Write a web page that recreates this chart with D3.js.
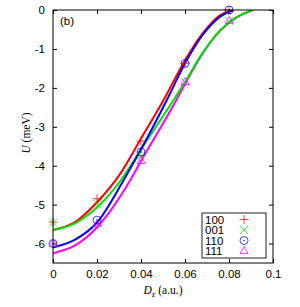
<!DOCTYPE html>
<html lang="en">
<head>
    <meta charset="utf-8">
    <script src="https://d3js.org/d3.v7.min.js"></script>
    <style>
        body { margin: 0; background: #fff; }
        svg { display: block; }
        .tick text { font-family: "Liberation Sans", Arial, sans-serif; font-size: 11.5px; fill: #000; }
    </style>
</head>
<body>
<svg id="vis" width="300" height="307"></svg>

<script>

    // series names and colours
    let series = ["100", "001", "110", "111"];
    let colors = ["#ff0000", "#00e000", "#0000ff", "#ff00ff"];

    // fitted curves: [D_z, U]
    let curve_100 = [[0, -5.65], [0.01, -5.45], [0.02, -4.94], [0.0305, -4.21], [0.04, -3.3], [0.0502, -2.32],
                     [0.06, -1.29], [0.068, -0.6], [0.076, -0.13], [0.082, 0]];
    let curve_001 = [[0, -5.65], [0.01, -5.48], [0.02, -5.07], [0.0305, -4.4], [0.04, -3.58], [0.0547, -2.32],
                     [0.06, -1.85], [0.068, -1.1], [0.076, -0.52], [0.0835, -0.18], [0.091, 0]];
    let curve_110 = [[0, -6.1], [0.01, -5.9], [0.02, -5.46], [0.032, -4.38], [0.04, -3.58], [0.0517, -2.32],
                     [0.06, -1.37], [0.068, -0.64], [0.076, -0.17], [0.082, 0]];
    let curve_111 = [[0, -6.25], [0.01, -6.05], [0.02, -5.58], [0.035, -4.38], [0.04, -3.88], [0.056, -2.32],
                     [0.06, -1.9], [0.068, -1.12], [0.076, -0.53], [0.0835, -0.19], [0.091, 0]];

    // measured points
    let pts_x = [0, 0.02, 0.04, 0.06, 0.08];
    let pts_100 = [-5.45, -4.85, -3.37, -1.37, 0];
    let pts_001 = [-5.46, -4.98, -3.74, -1.85, -0.28];
    let pts_110 = [-6.0, -5.4, -3.65, -1.37, 0];
    let pts_111 = [-6.0, -5.5, -3.88, -1.85, -0.28];

    let x_ticks = [0, 0.02, 0.04, 0.06, 0.08, 0.1];
    let x_labels = ["0", "0.02", "0.04", "0.06", "0.08", "0.1"];
    let y_ticks = [0, -1, -2, -3, -4, -5, -6];
    let y_labels = ["0", "-1", "-2", "-3", "-4", "-5", "-6"];

    var margin = {left: 53, right: 27, top: 10, bottom: 44};
    var svg = d3.select("#vis");
    var width = 300 - margin.left - margin.right,
        height = 307 - margin.top - margin.bottom;

    var x = d3.scaleLinear().domain([0, 0.1]).range([0, width]);
    var y = d3.scaleLinear().domain([-6.5, 0]).range([height, 0]);

    var g = svg.append("g").attr("transform", "translate(" + margin.left + "," + margin.top + ")");

    g.append("defs").append("clipPath").attr("id", "clip")
        .append("rect").attr("width", width).attr("height", height);

    // axes, ticks inside
    var xb = g.append("g").attr("transform", "translate(0," + height + ")")
        .call(d3.axisBottom(x).tickValues(x_ticks).tickSize(-4).tickPadding(7)
            .tickFormat((d, i) => x_labels[i]));
    var xt = g.append("g").call(d3.axisTop(x).tickValues(x_ticks).tickSize(-4).tickFormat(""));
    var yl = g.append("g")
        .call(d3.axisLeft(y).tickValues(y_ticks).tickSize(-4).tickPadding(8)
            .tickFormat((d, i) => y_labels[i]));
    var yr = g.append("g").attr("transform", "translate(" + width + ",0)")
        .call(d3.axisRight(y).tickValues(y_ticks).tickSize(-4).tickFormat(""));
    [xb, xt, yl, yr].forEach(a => {
        a.select(".domain").remove();
        a.selectAll(".tick line").attr("stroke", "#000");
    });

    var line = d3.line().x(d => x(d[0])).y(d => y(d[1])).curve(d3.curveMonotoneX);

    // draw order so that overlaps look like the picture
    var curves = {"100": curve_100, "001": curve_001, "110": curve_110, "111": curve_111};
    var cg = g.append("g").attr("clip-path", "url(#clip)");
    ["111", "100", "001", "110"].forEach(k => {
        cg.append("path")
            .attr("d", line(curves[k]))
            .attr("fill", "none")
            .attr("stroke", colors[series.indexOf(k)])
            .attr("stroke-width", 2);
    });

    // markers
    function marker(sel, k, cx, cy) {
        var c = colors[series.indexOf(k)];
        var m = sel.append("g").attr("transform", "translate(" + cx + "," + cy + ")")
            .attr("fill", "none").attr("stroke", c).attr("stroke-width", 1).attr("opacity", 0.75);
        if (k === "100") {
            m.append("path").attr("d", "M-4.5,0H4.5M0,-4.5V4.5");
        } else if (k === "001") {
            m.append("path").attr("d", "M-4,-4L4,4M-4,4L4,-4");
        } else if (k === "110") {
            m.append("circle").attr("r", 4);
            m.append("circle").attr("r", 0.5).attr("fill", c);
        } else {
            m.append("path").attr("d", "M0,-4.5L4,2.5L-4,2.5Z");
        }
    }

    var pts = {"100": pts_100, "001": pts_001, "110": pts_110, "111": pts_111};
    var mg = g.append("g");
    series.forEach(k => {
        pts[k].forEach((v, i) => marker(mg, k, x(pts_x[i]), y(v)));
    });

    // frame
    g.append("rect").attr("width", width).attr("height", height)
        .attr("fill", "none").attr("stroke", "#000").attr("stroke-width", 1);

    // panel label
    g.append("text").attr("x", 7).attr("y", 15)
        .style("font-family", "Liberation Sans, Arial, sans-serif").style("font-size", "11.5px")
        .text("(b)");

    // legend
    var lg = g.append("g").attr("transform", "translate(" + (202 - margin.left) + "," + (213 - margin.top) + ")");
    lg.append("rect").attr("width", 64).attr("height", 45)
        .attr("fill", "#fff").attr("stroke", "#222").attr("stroke-width", 1);
    series.forEach((k, i) => {
        var yy = 6.5 + i * 10.5;
        lg.append("text").attr("x", 3).attr("y", yy).attr("dy", "0.36em")
            .style("font-family", "Liberation Sans, Arial, sans-serif").style("font-size", "11.5px")
            .text(k);
        marker(lg, k, 42, yy);
    });

    // axis titles
    var xl = svg.append("text").attr("x", 163).attr("y", 294).attr("text-anchor", "middle")
        .style("font-family", "Liberation Serif, Times New Roman, serif").style("font-size", "11.5px");
    xl.append("tspan").style("font-style", "italic").text("D");
    xl.append("tspan").attr("dy", 3).style("font-size", "8px").text("z");
    xl.append("tspan").attr("dy", -3).text(" (a.u.)");

    var ylab = svg.append("text").attr("transform", "translate(30,133) rotate(-90)").attr("text-anchor", "middle")
        .style("font-family", "Liberation Serif, Times New Roman, serif").style("font-size", "11.5px");
    ylab.append("tspan").style("font-style", "italic").text("U");
    ylab.append("tspan").text(" (meV)");

</script>
</body>
</html>
